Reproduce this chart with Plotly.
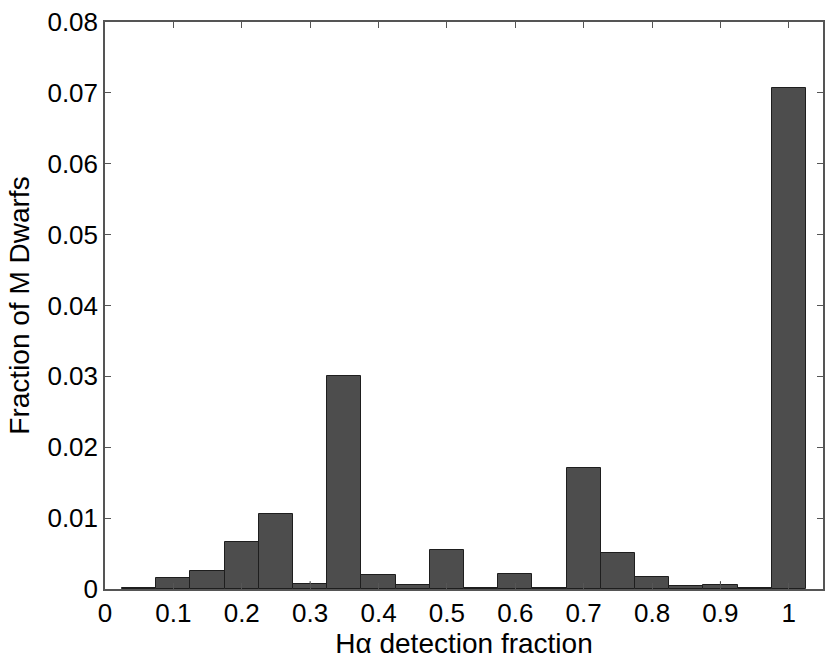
import plotly.graph_objects as go

# bin centres of the H-alpha detection fraction histogram
bin_centers = [0.05, 0.10, 0.15, 0.20, 0.25, 0.30, 0.35, 0.40, 0.45, 0.50,
               0.55, 0.60, 0.65, 0.70, 0.75, 0.80, 0.85, 0.90, 0.95, 1.00]
fractions = [0.0001, 0.0016, 0.0026, 0.0067, 0.0106, 0.0007, 0.0300, 0.0020, 0.0005, 0.0055,
             0.0001, 0.0021, 0.0002, 0.0171, 0.0051, 0.0017, 0.0004, 0.0005, 0.0002, 0.0707]
# small upward whiskers seen on two of the bars
whisker_up = [0, 0, 0, 0, 0, 0.0004, 0, 0, 0, 0,
              0, 0, 0, 0, 0, 0, 0, 0.0006, 0, 0]

x_ticks = [0, 0.1, 0.2, 0.3, 0.4, 0.5, 0.6, 0.7, 0.8, 0.9, 1]
x_labels = ["0", "0.1", "0.2", "0.3", "0.4", "0.5", "0.6", "0.7", "0.8", "0.9", "1"]
y_ticks = [0, 0.01, 0.02, 0.03, 0.04, 0.05, 0.06, 0.07, 0.08]
y_labels = ["0", "0.01", "0.02", "0.03", "0.04", "0.05", "0.06", "0.07", "0.08"]

family = "Liberation Sans, Arial, Helvetica, sans-serif"
tick_font = dict(family=family, size=26, color="black")
title_font = dict(family=family, size=28, color="black")
axis_color = "#555555"

fig = go.Figure()
fig.add_trace(go.Bar(x=bin_centers, y=fractions, width=0.05,
                     marker=dict(color="#4d4d4d", line=dict(color="#1e1e1e", width=1)),
                     error_y=dict(type="data", array=whisker_up, arrayminus=[0] * len(whisker_up),
                                  symmetric=False, width=0, thickness=1, color="#333333")))

fig.update_layout(
    width=830, height=662,
    margin=dict(l=105, r=7, t=22, b=73),
    paper_bgcolor="white", plot_bgcolor="white",
    font=tick_font, showlegend=False, bargap=0,
)
fig.update_xaxes(range=[0, 1.05], tickvals=x_ticks, ticktext=x_labels, tickfont=tick_font,
                 showline=True, linecolor=axis_color, linewidth=1.5, mirror="ticks",
                 ticks="inside", ticklen=6, tickcolor=axis_color, showgrid=False, zeroline=False,
                 automargin=False,
                 title=dict(text="Hα detection fraction", font=title_font, standoff=0))
fig.update_yaxes(range=[0, 0.08], tickvals=y_ticks, ticktext=y_labels, tickfont=tick_font,
                 showline=True, linecolor=axis_color, linewidth=1.5, mirror="ticks",
                 ticks="inside", ticklen=6, tickcolor=axis_color, showgrid=False, zeroline=False,
                 automargin=False,
                 title=dict(text="Fraction of M Dwarfs", font=title_font, standoff=10))

# drop the browser's default body margin so the figure sits at the window corner
fig.write_html("out.html", config={"displayModeBar": False},
               post_script="document.body.style.margin='0';document.body.style.overflow='hidden';")
